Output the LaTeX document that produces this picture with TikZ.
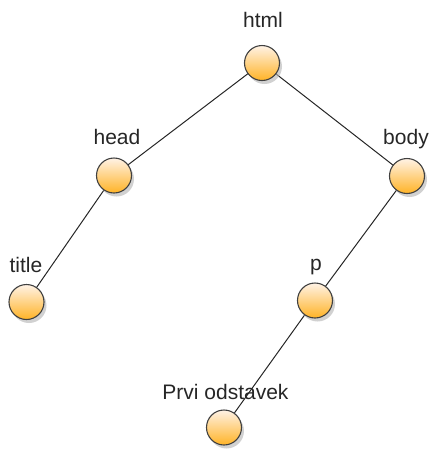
\documentclass[tikz,border=0pt]{standalone}
\usepackage{fontspec}
\setmainfont{Liberation Sans}
\usetikzlibrary{shadows}
\begin{document}
\begin{tikzpicture}[x=1pt,y=-1pt,
  vert/.style={circle,minimum size=35pt,inner sep=0pt,draw=black!75,line width=1.1pt,
    top color=orange!10!white,bottom color=orange!70!yellow!85!white,
    shading angle=0,
    drop shadow={shadow xshift=2.5pt,shadow yshift=-3.5pt,fill=black!30,opacity=0.6}},
  lbl/.style={font=\fontsize{21}{23}\selectfont,inner sep=0pt,anchor=base,text=black!85},
  edge/.style={draw=black!85,line width=1pt}]
\useasboundingbox (0,0) rectangle (433,451);
% labels
\node[lbl] (lhtml) at (263,27) {html};
\node[lbl] (lhead) at (117,144) {head};
\node[lbl] (lbody) at (406,144) {body};
\node[lbl] (ltitle) at (26,272) {title};
\node[lbl] (lp) at (316,270) {p};
\node[lbl] (lprvi) at (225.5,399) {Prvi odstavek};
% coordinates
\coordinate (chtml) at (262,63);
\coordinate (chead) at (114,175.5);
\coordinate (cbody) at (407,176);
\coordinate (ctitle) at (26.5,302);
\coordinate (cp) at (315,300.5);
\coordinate (cprvi) at (224,427.5);
% edges
\draw[edge] (chtml) -- (chead);
\draw[edge] (chtml) -- (cbody);
\draw[edge] (chead) -- (ctitle);
\draw[edge] (cbody) -- (cp);
\draw[edge] (cp) -- (cprvi);
% vertices
\node[vert] (html) at (chtml) {};
\node[vert] (head) at (chead) {};
\node[vert] (body) at (cbody) {};
\node[vert] (title) at (ctitle) {};
\node[vert] (p) at (cp) {};
\node[vert] (prvi) at (cprvi) {};
\end{tikzpicture}
\end{document}
